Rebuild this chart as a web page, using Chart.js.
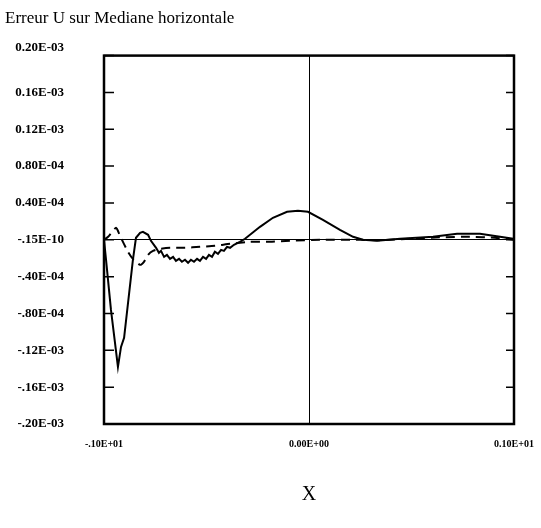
<!DOCTYPE html>
<html lang="fr">
<head>
  <meta charset="UTF-8" />
  <title>Erreur U sur Mediane horizontale</title>
  <script src="https://cdn.jsdelivr.net/npm/chart.js"></script>
  <style>
    html, body { margin: 0; padding: 0; background: #fff; }
    #wrap { width: 541px; height: 528px; }
  </style>
</head>
<body>
  <div id="wrap"><canvas id="errChart" width="541" height="528"></canvas></div>

  <script>
    // x along the horizontal median, error in units of 1e-6
    const solidX = [-1.000, -0.990, -0.966, -0.932, -0.917, -0.902, -0.859, -0.844, -0.824, -0.810,
      -0.785, -0.771, -0.746, -0.732, -0.722, -0.707, -0.693, -0.678, -0.663, -0.649,
      -0.634, -0.620, -0.605, -0.590, -0.576, -0.561, -0.546, -0.532, -0.517, -0.502,
      -0.488, -0.473, -0.459, -0.444, -0.429, -0.415, -0.400, -0.385, -0.366, -0.337,
      -0.312, -0.239, -0.176, -0.107, -0.054, -0.005, 0.068, 0.151, 0.215, 0.263,
      0.332, 0.444, 0.605, 0.722, 0.834, 0.932, 0.995, 1.000];
    const solidU = [0, -21.7, -76.1, -138.0, -116.3, -106.5, -21.7, 2.2, 7.6, 8.7,
      5.4, -1.1, -8.7, -14.1, -12.0, -18.5, -16.3, -20.7, -18.5, -22.8,
      -20.7, -23.9, -21.7, -25.0, -21.7, -23.9, -20.7, -22.8, -18.5, -20.7,
      -16.3, -18.5, -13.0, -15.2, -10.9, -12.0, -7.6, -8.7, -5.4, -2.2,
      1.1, 14.1, 23.9, 30.4, 31.5, 30.4, 21.7, 10.9, 3.3, 0,
      -1.1, 1.1, 3.3, 6.5, 6.5, 3.3, 1.1, 0];

    const dashX = [-1.000, -0.980, -0.941, -0.922, -0.883, -0.859, -0.824, -0.805, -0.785, -0.761,
      -0.727, -0.678, -0.605, -0.532, -0.459, -0.385, -0.288, -0.190, -0.093, 0.054,
      0.249, 0.346, 0.493, 0.639, 0.785, 0.907, 1.000];
    const dashU = [0, 3.3, 13.0, 4.3, -13.0, -20.7, -27.2, -23.9, -16.3, -12.0,
      -9.8, -8.7, -8.7, -7.6, -6.5, -4.3, -2.2, -2.2, -1.1, 0,
      0, -0.5, 1.1, 2.7, 3.3, 2.2, 0];

    const yTickLabels = ['-.20E-03', '-.16E-03', '-.12E-03', '-.80E-04', '-.40E-04', '-.15E-10',
      '0.40E-04', '0.80E-04', '0.12E-03', '0.16E-03', '0.20E-03'];
    const xTickLabels = ['-.10E+01', '0.00E+00', '0.10E+01'];

    const toPoints = (xs, ys) => xs.map((x, i) => ({ x: x, y: ys[i] }));

    // frame + inward tick marks on both sides
    const framePlugin = {
      id: 'frame',
      afterDraw(chart) {
        const { ctx, chartArea: a, scales } = chart;
        ctx.save();
        ctx.strokeStyle = '#000';
        ctx.lineWidth = 1.5;
        scales.y.ticks.forEach(t => {
          const py = scales.y.getPixelForValue(t.value);
          ctx.beginPath();
          ctx.moveTo(a.left, py); ctx.lineTo(a.left + 10, py);
          ctx.moveTo(a.right - 8, py); ctx.lineTo(a.right, py);
          ctx.stroke();
        });
        ctx.lineWidth = 2.5;
        ctx.strokeRect(a.left, a.top, a.right - a.left, a.bottom - a.top);
        ctx.restore();
      }
    };

    const zeroOnly = c => c.tick.value === 0 ? '#000' : 'rgba(0,0,0,0)';

    new Chart(document.getElementById('errChart'), {
      type: 'line',
      data: {
        datasets: [
          {
            data: toPoints(solidX, solidU),
            borderColor: '#000',
            borderWidth: 2,
            pointRadius: 0,
            tension: 0
          },
          {
            data: toPoints(dashX, dashU),
            borderColor: '#000',
            borderWidth: 2,
            borderDash: [9, 6],
            pointRadius: 0,
            tension: 0.2
          }
        ]
      },
      plugins: [framePlugin],
      options: {
        responsive: false,
        animation: false,
        layout: { padding: { left: 5, right: 27, top: 0, bottom: 0 } },
        plugins: {
          legend: { display: false },
          tooltip: { enabled: false },
          title: {
            display: true,
            text: 'Erreur U sur Mediane horizontale',
            align: 'start',
            color: '#000',
            font: { family: 'Liberation Serif', size: 17, weight: 'normal' },
            padding: { top: 3, bottom: 27 }
          }
        },
        scales: {
          x: {
            type: 'linear',
            min: -1,
            max: 1,
            ticks: {
              stepSize: 1,
              autoSkip: false,
              color: '#000',
              padding: 14,
              maxRotation: 0,
              font: { family: 'Liberation Serif', size: 10, weight: 'bold' },
              callback: (v, i) => xTickLabels[i]
            },
            grid: { color: zeroOnly, lineWidth: 1, drawTicks: false },
            border: { display: false },
            title: {
              display: true,
              text: 'X',
              color: '#000',
              font: { family: 'Liberation Serif', size: 20 },
              padding: { top: 0, bottom: 21 }
            },
            afterFit: s => { s.height = 104; s.paddingLeft = 0; s.paddingRight = 0; }
          },
          y: {
            min: -200,
            max: 200,
            ticks: {
              stepSize: 40,
              autoSkip: false,
              color: '#000',
              padding: 40,
              crossAlign: 'near',
              font: { family: 'Liberation Serif', size: 13, weight: 'bold' },
              callback: (v, i) => i === 10 ? [yTickLabels[i], ''] : yTickLabels[i]
            },
            grid: { color: zeroOnly, lineWidth: 1, drawTicks: false },
            border: { display: false },
            afterFit: s => { s.width = 99; }
          }
        }
      }
    });
  </script>
</body>
</html>
